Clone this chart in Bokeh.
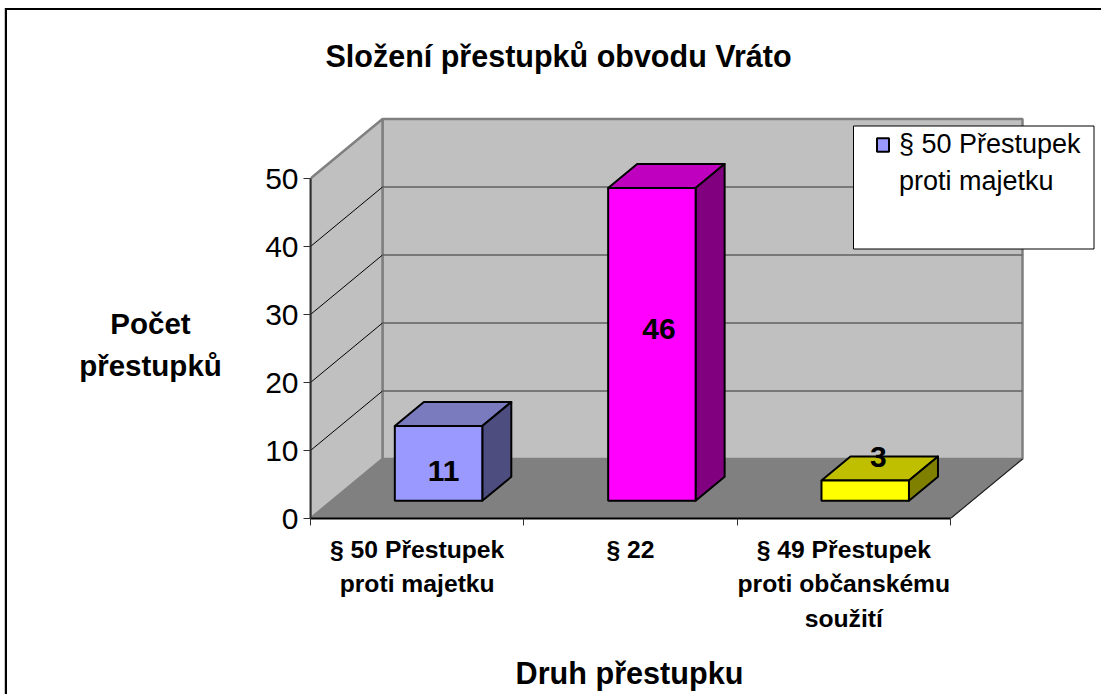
from bokeh.plotting import figure, ColumnDataSource
from bokeh.models import (Range1d, FixedTicker, Label, BoxAnnotation, Legend, LegendItem, Title, InlineStyleSheet)
from bokeh.core.properties import value
from bokeh.embed import file_html
from bokeh.resources import INLINE

# ---- data ----
categories = ["§ 50 Přestupek\nproti majetku", "§ 22", "§ 49 Přestupek\nproti občanskému\nsoužití"]
counts = [11, 46, 3]
value_ticks = [0, 10, 20, 30, 40, 50]
front_colors = ["#9999ff", "#ff00ff", "#ffff00"]
top_colors = ["#7a7abf", "#bf00bf", "#bfbf00"]
side_colors = ["#4d4d80", "#800080", "#808000"]
title_text = "Složení přestupků obvodu Vráto"
y_title = "Počet\npřestupků"
x_title = "Druh přestupku"
legend_lines = ["§ 50 Přestupek", "proti majetku"]

# ---- layout in pixels ----
W, H = 1101, 694
FRAME_L, FRAME_T, FRAME_B = 310, 82, 518
PX_CAT = 640 / 3
PX_VAL = 340 / 50
DEPTH_X = 72 / PX_CAT                          # oblique projection of depth 1
DEPTH_Y = 59.5 / PX_VAL
BAR_W = 0.41
D0, D1 = 0.297, 0.70
FONT = "Liberation Sans"

def sx(px): return px - FRAME_L
def sy(py): return FRAME_B - py
def proj(c, v, d): return (c + d * DEPTH_X, v + d * DEPTH_Y)
def poly(points):
    pts = [proj(*q) for q in points]
    return [a for a, _ in pts], [b for _, b in pts]

# The chart's outer border runs outside the plot frame and off the page to the right and below
border_css = InlineStyleSheet(css=""":host::after {
  content: ""; position: absolute; left: 5px; top: 8px; right: 0; bottom: 0;
  border-left: 2px solid #000; border-top: 2px solid #000;
  box-shadow: -1px 0 0 #c8c8c8; pointer-events: none; }""")

p = figure(width=W, height=H, output_backend="svg", toolbar_location=None,
           x_range=Range1d(0, (W - FRAME_L) / PX_CAT),
           y_range=Range1d(0, (FRAME_B - FRAME_T) / PX_VAL),
           min_border_left=FRAME_L, min_border_right=0,
           min_border_top=FRAME_T, min_border_bottom=H - FRAME_B,
           background_fill_color="white", border_fill_color="white",
           stylesheets=[border_css])
p.outline_line_color = None
p.grid.visible = False

# Axes
ya = p.yaxis[0]
ya.ticker = FixedTicker(ticks=value_ticks)
ya.bounds = (0, 50)
ya.axis_line_color = "#303030"; ya.axis_line_width = 2
ya.major_tick_out = 7; ya.major_tick_in = 0; ya.minor_tick_line_color = None
ya.major_tick_line_color = "#303030"
ya.major_label_text_font = FONT; ya.major_label_text_font_size = "30px"
ya.major_label_text_color = "black"; ya.major_label_standoff = 5

n = len(categories)
xa = p.xaxis[0]
xa.ticker = FixedTicker(ticks=[i + 0.5 for i in range(n)], minor_ticks=list(range(n + 1)))
xa.major_label_overrides = {i + 0.5: c for i, c in enumerate(categories)}
xa.bounds = (0, n)
xa.axis_line_color = "black"; xa.axis_line_width = 2
xa.major_tick_line_color = None
xa.minor_tick_out = 7; xa.minor_tick_in = 0; xa.minor_tick_line_color = "#303030"
xa.major_label_text_font = FONT; xa.major_label_text_font_style = "bold"
xa.major_label_text_font_size = "24.7px"; xa.major_label_text_color = "black"
xa.major_label_text_line_height = 1.28
xa.major_label_standoff = 10
xa.major_label_orientation = "horizontal"

# Walls and floor
WALL = "#c0c0c0"; EDGE = "#808080"
bx, by = poly([(0, 0, 1), (n, 0, 1), (n, 50, 1), (0, 50, 1)])
p.patch(bx, by, fill_color=WALL, line_color=EDGE, line_width=2.5)
sxs, sys_ = poly([(0, 0, 0), (0, 0, 1), (0, 50, 1), (0, 50, 0)])
p.patch(sxs, sys_, fill_color=WALL, line_color=EDGE, line_width=2.5)
fx, fy = poly([(0, 0, 0), (n, 0, 0), (n, 0, 1), (0, 0, 1)])
p.patch(fx, fy, fill_color=EDGE, line_color=EDGE, line_width=1)
ex2, ey2 = poly([(n, 0, 0), (n, 0, 1)])
p.line(ex2, ey2, line_color="#202020", line_width=1.2)
for t in value_ticks[1:-1]:
    gx, gy = poly([(0, t, 0), (0, t, 1)])
    p.line(gx, gy, line_color="black", line_width=1)
for t in value_ticks[1:-1]:
    gx, gy = poly([(0, t, 1), (n, t, 1)])
    p.line(gx, gy, line_color="#606060", line_width=1.5)

# Bars
cx = [i + 0.5 for i in range(n)]
lefts = [proj(c - BAR_W / 2, 0, D0)[0] for c in cx]
rights = [proj(c + BAR_W / 2, 0, D0)[0] for c in cx]
bottoms = [proj(c, 0, D0)[1] for c in cx]
tops = [proj(c, v, D0)[1] for c, v in zip(cx, counts)]
for i, (c, v) in enumerate(zip(cx, counts)):
    l, r = c - BAR_W / 2, c + BAR_W / 2
    tx, ty = poly([(l, v, D0), (r, v, D0), (r, v, D1), (l, v, D1)])
    p.patch(tx, ty, fill_color=top_colors[i], line_color="black", line_width=2, line_join="round")
    sx_, sy_ = poly([(r, 0, D0), (r, 0, D1), (r, v, D1), (r, v, D0)])
    p.patch(sx_, sy_, fill_color=side_colors[i], line_color="black", line_width=2, line_join="round")
front = ColumnDataSource(dict(left=lefts, right=rights, bottom=bottoms, top=tops, color=front_colors))
fr = p.quad(left="left", right="right", bottom="bottom", top="top", fill_color="color",
            line_color="black", line_width=2, source=front)

# Value labels (nudged as in the original picture)
lab = ColumnDataSource(dict(x=[proj(c, 0, D0)[0] for c in cx], y=tops,
                            t=[str(v) for v in counts],
                            xo=[5, 7, 13], yo=[45, 141, -23]))
p.text(x="x", y="y", text="t", source=lab, x_offset="xo", y_offset="yo",
       text_align="center", text_baseline="middle", text_color="black",
       text_font=value(FONT), text_font_style="bold", text_font_size="30px")

# Legend box; the entry's wrapped second line carries no swatch
p.add_layout(BoxAnnotation(left=sx(853), right=sx(1093.5), top=sy(125.5), bottom=sy(248.5),
                           left_units="screen", right_units="screen", top_units="screen", bottom_units="screen",
                           fill_color="white", fill_alpha=1, line_color="black", line_alpha=1, line_width=1))
no_swatch = p.quad(left="left", right="left", bottom="bottom", top="bottom", source=front,
                   fill_alpha=0, line_alpha=0)
leg = Legend(items=[LegendItem(label=legend_lines[0], renderers=[fr], index=0),
                    LegendItem(label=legend_lines[1], renderers=[no_swatch], index=0)],
             location=(sx(875), sy(197)), orientation="vertical",
             border_line_color=None, background_fill_alpha=0, margin=0, padding=0, spacing=5,
             glyph_width=15, glyph_height=17, label_standoff=9,
             label_text_font=FONT, label_text_font_size="27px", label_text_color="black",
             label_height=32)
p.add_layout(leg)

# Titles
t = Title(text=title_text, text_font=FONT, text_font_size="30.5px", text_font_style="bold",
          text_color="black", align="left", offset=15, standoff=20)
p.add_layout(t, "above")
p.add_layout(Label(x=150, y=344, x_units="canvas", y_units="canvas", text=y_title,
                   text_font=FONT, text_font_size="29.5px", text_font_style="bold",
                   text_align="center", text_baseline="middle", text_color="black",
                   text_line_height=1.25), "left")
p.add_layout(Label(x=629, y=672, x_units="canvas", y_units="canvas", text=x_title,
                   text_font=FONT, text_font_size="30.6px", text_font_style="bold",
                   text_align="center", text_baseline="middle", text_color="black"), "below")

open("out.html", "w").write(file_html(p, INLINE))
